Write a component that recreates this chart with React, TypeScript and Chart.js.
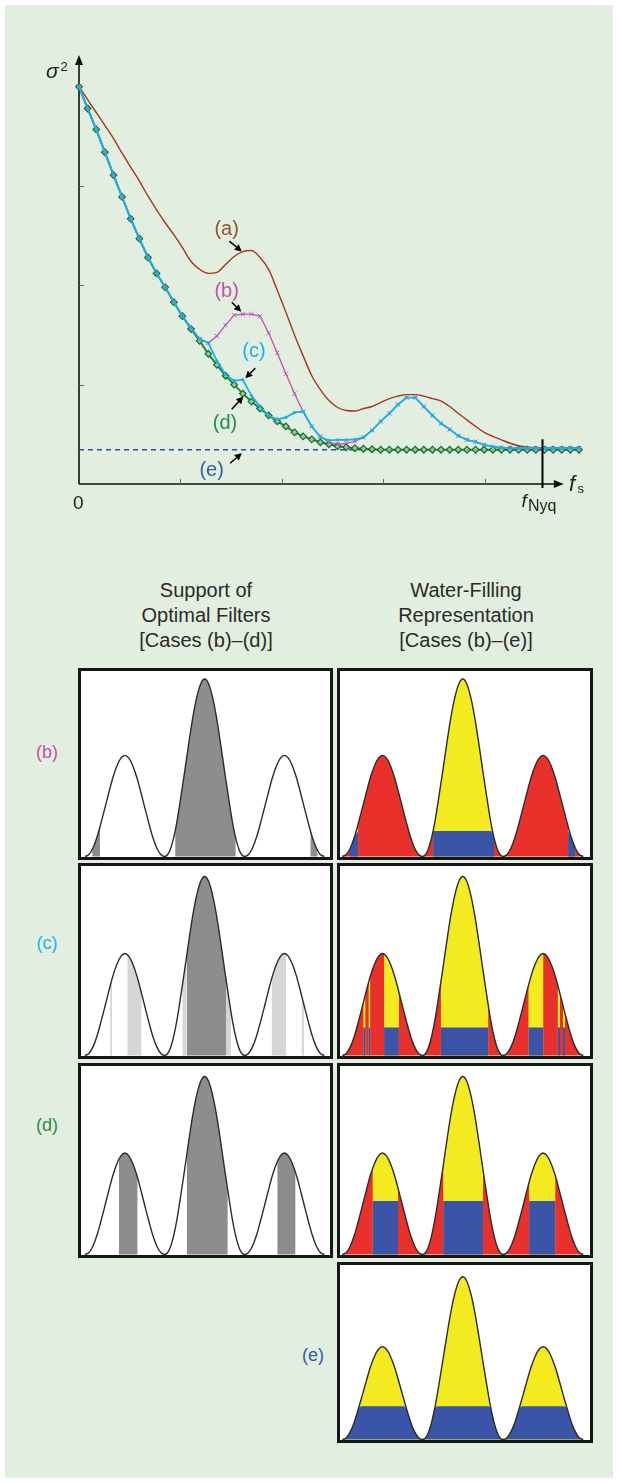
import React, { useEffect, useRef } from "react";
import { Chart, registerables } from "chart.js";

Chart.register(...registerables);

// ---------------- Top chart data (variance vs. sampling rate) ----------------
const FREQ_STEP = 0.085; // spacing of the sampled frequencies (axis units)
const curveA = [
  4.0, 3.87, 3.74, 3.61, 3.48, 3.33, 3.19, 3.05, 2.9, 2.76, 2.63, 2.51, 2.38, 2.24, 2.16, 2.12, 2.13, 2.21,
  2.29, 2.34, 2.35, 2.28, 2.16, 1.95, 1.73, 1.5, 1.29, 1.09, 0.95, 0.84, 0.77, 0.74, 0.735, 0.76, 0.78, 0.82,
  0.86, 0.885, 0.9, 0.9, 0.885, 0.86, 0.835, 0.78, 0.71, 0.645, 0.58, 0.52, 0.48, 0.445, 0.41, 0.385, 0.37,
  0.365, 0.365, 0.365, 0.365, 0.365, 0.365,
];
const curveB = [
  4.0, 3.78, 3.57, 3.34, 3.11, 2.89, 2.67, 2.47, 2.28, 2.12, 1.98, 1.83, 1.69, 1.57, 1.46, 1.42, 1.49, 1.6,
  1.7, 1.71, 1.71, 1.69, 1.52, 1.32, 1.11, 0.91, 0.73, 0.58, 0.48, 0.42, 0.4, 0.41, 0.43, 0.47, 0.54, 0.63,
  0.71, 0.8, 0.87, 0.87, 0.78, 0.69, 0.61, 0.55, 0.485, 0.445, 0.425, 0.395, 0.375, 0.365, 0.36, 0.36, 0.36,
  0.36, 0.36, 0.36, 0.36, 0.36, 0.36,
];
const curveC = [
  4.0, 3.78, 3.57, 3.34, 3.11, 2.89, 2.67, 2.47, 2.28, 2.12, 1.98, 1.83, 1.69, 1.57, 1.46, 1.42, 1.24, 1.1,
  1.04, 1.05, 0.89, 0.78, 0.69, 0.65, 0.67, 0.72, 0.73, 0.58, 0.47, 0.44, 0.445, 0.445, 0.45, 0.47, 0.54,
  0.63, 0.71, 0.8, 0.87, 0.87, 0.78, 0.69, 0.61, 0.55, 0.485, 0.445, 0.425, 0.395, 0.375, 0.365, 0.36, 0.36,
  0.36, 0.36, 0.36, 0.36, 0.36, 0.36, 0.36,
];
const curveD = [
  4.0, 3.78, 3.57, 3.34, 3.11, 2.89, 2.67, 2.47, 2.28, 2.12, 1.98, 1.83, 1.69, 1.56, 1.44, 1.31, 1.2, 1.09,
  1.0, 0.91, 0.83, 0.76, 0.69, 0.63, 0.58, 0.52, 0.48, 0.45, 0.42, 0.4, 0.38, 0.37, 0.36, 0.355, 0.35, 0.345,
  0.345, 0.345, 0.345, 0.345, 0.345, 0.345, 0.345, 0.345, 0.345, 0.345, 0.345, 0.345, 0.345, 0.345, 0.345,
  0.345, 0.345, 0.345, 0.345, 0.345, 0.345, 0.345, 0.345,
];
const levelE = 0.345;
const xTicks = [1, 2, 3, 4];
const yTicks = [1, 2, 3];
const fNyq = 4.57;
const X_MAX = 4.93;
const Y_MAX = 4.5;
const X_ARROW = 4.78;
const Y_ARROW = 4.32;

// annotation arrows: tip in data units, tail offset in px
const arrowTips = [
  { x: 1.605, y: 2.34, dx: -12.4, dy: -10.5 },
  { x: 1.6, y: 1.735, dx: -9.5, dy: -9.5 },
  { x: 1.64, y: 1.065, dx: 10, dy: -10 },
  { x: 1.62, y: 0.88, dx: -11.6, dy: 12.6 },
  { x: 1.605, y: 0.31, dx: -11.7, dy: 10 },
];

// ---------------- Panel data (normalized spectrum with three bumps) ----------------
const panelCurve = [
  0, 0.011, 0.048, 0.108, 0.188, 0.274, 0.362, 0.445, 0.51, 0.554, 0.57,
  0.554, 0.51, 0.445, 0.362, 0.274, 0.188, 0.108, 0.048, 0.011, 0,
  0.02, 0.085, 0.19, 0.33, 0.48, 0.635, 0.78, 0.895, 0.972, 1.0,
  0.972, 0.895, 0.78, 0.635, 0.48, 0.33, 0.19, 0.085, 0.02, 0,
  0.011, 0.048, 0.108, 0.188, 0.274, 0.362, 0.445, 0.51, 0.554, 0.57,
  0.554, 0.51, 0.445, 0.362, 0.274, 0.188, 0.108, 0.048, 0.011, 0,
];
const supportB = [[1.8, 3.8], [22.6, 37.8], [56.5, 58.3]];
const supportCDark = [[25.5, 35.5]];
const supportCLight = [[24.4, 25.5], [35.5, 36.6], [10.6, 14.2], [46.8, 50.4], [6.3, 6.8], [54.3, 54.9]];
const supportD = [[8.5, 13.2], [25.5, 35.8], [48.2, 52.8]];
const waterBandsB = [[1.9, 4.0], [22.6, 37.8], [56.2, 58.0]];
const waterBandsC = [[5.2, 5.8], [6.5, 7.0], [10.4, 14.1], [24.5, 36.4], [46.3, 50.1], [53.6, 54.2], [54.9, 55.5]];
const waterBandsD = [[7.5, 13.9], [25.1, 35.1], [46.5, 53.1]];
const waterBandsE = [[0, 60]];
const waterB = 0.144;
const waterC = 0.157;
const waterD = 0.3;
const waterE = 0.205;

// ---------------- Styles ----------------
const FONT = '"Liberation Sans", Arial, Helvetica, sans-serif';
const BROWN = "#a4381f";
const MAG = "#c353ad";
const CYAN = "#17b1ea";
const GREEN = "#23843d";
const EBLUE = "#2e4fa6";
const T_A = "#95532a";
const T_B = "#c152a9";
const T_C = "#1bb2ea";
const T_D = "#1f8f47";
const T_E = "#3b57a8";
const DARK = "#8d8d8d";
const LIGHT = "#d6d6d6";
const RED = "#e9302a";
const BLUEF = "#3a55a7";
const YELLOW = "#f3ea1f";
const BORDER = 3;

const topPlugin = {
  id: "topAxes",
  beforeDatasetsDraw(chart: any) {
    const { ctx, scales } = chart;
    const x = scales.x, y = scales.y;
    const x0 = x.getPixelForValue(0);
    const y0 = y.getPixelForValue(0);
    const yTip = y.getPixelForValue(Y_ARROW);
    const xTip = x.getPixelForValue(X_ARROW);
    ctx.save();
    ctx.strokeStyle = "#111";
    ctx.fillStyle = "#111";
    ctx.lineWidth = 1.6;
    ctx.beginPath();
    ctx.moveTo(x0, y0);
    ctx.lineTo(x0, yTip + 8);
    ctx.moveTo(x0, y0);
    ctx.lineTo(xTip - 8, y0);
    ctx.stroke();
    ctx.beginPath();
    ctx.moveTo(x0, yTip);
    ctx.lineTo(x0 - 4, yTip + 10);
    ctx.lineTo(x0 + 4, yTip + 10);
    ctx.closePath();
    ctx.fill();
    ctx.beginPath();
    ctx.moveTo(xTip, y0);
    ctx.lineTo(xTip - 10, y0 - 4);
    ctx.lineTo(xTip - 10, y0 + 4);
    ctx.closePath();
    ctx.fill();
    ctx.lineWidth = 1;
    ctx.strokeStyle = "#666";
    ctx.beginPath();
    xTicks.forEach((v) => {
      const px = Math.round(x.getPixelForValue(v)) + 0.5;
      ctx.moveTo(px, y0);
      ctx.lineTo(px, y0 - 5);
    });
    yTicks.forEach((v) => {
      const py = Math.round(y.getPixelForValue(v)) + 0.5;
      ctx.moveTo(x0, py);
      ctx.lineTo(x0 + 5, py);
    });
    ctx.stroke();
    ctx.restore();
  },
  afterDatasetsDraw(chart: any) {
    const { ctx, scales } = chart;
    const x = scales.x, y = scales.y;
    const y0 = y.getPixelForValue(0);
    ctx.save();
    ctx.strokeStyle = "#000";
    ctx.fillStyle = "#000";
    ctx.lineWidth = 2;
    const px = x.getPixelForValue(fNyq);
    ctx.beginPath();
    ctx.moveTo(px, y.getPixelForValue(0.45));
    ctx.lineTo(px, y0 + 4);
    ctx.stroke();
    ctx.lineWidth = 1.5;
    arrowTips.forEach((a) => {
      const tx = x.getPixelForValue(a.x);
      const ty = y.getPixelForValue(a.y);
      const sx = tx + a.dx, sy = ty + a.dy;
      const ang = Math.atan2(ty - sy, tx - sx);
      const hl = 7, hw = 3.6;
      const bx = tx - hl * Math.cos(ang), by = ty - hl * Math.sin(ang);
      ctx.beginPath();
      ctx.moveTo(sx, sy);
      ctx.lineTo(bx, by);
      ctx.stroke();
      ctx.beginPath();
      ctx.moveTo(tx, ty);
      ctx.lineTo(bx + hw * Math.sin(ang), by - hw * Math.cos(ang));
      ctx.lineTo(bx - hw * Math.sin(ang), by + hw * Math.cos(ang));
      ctx.closePath();
      ctx.fill();
    });
    ctx.restore();
  },
};

function TopChart() {
  const ref = useRef<HTMLCanvasElement>(null);
  useEffect(() => {
    const pts = (arr: number[]) => arr.map((v, i) => ({ x: i * FREQ_STEP, y: v }));
    const chart = new Chart(ref.current as HTMLCanvasElement, {
      type: "line",
      data: {
        datasets: [
          {
            label: "(c)", data: pts(curveC), borderColor: CYAN, backgroundColor: CYAN, borderWidth: 1.8,
            pointRadius: 1.6, pointStyle: "circle", pointBorderWidth: 0, pointBackgroundColor: CYAN,
            order: 0, clip: false, fill: false,
          } as any,
          {
            label: "(b)", data: pts(curveB), borderColor: MAG, borderWidth: 1.3, pointStyle: "crossRot",
            pointRadius: 3, pointBorderWidth: 1, pointBorderColor: MAG, order: 1, clip: false, fill: false,
          } as any,
          {
            label: "(d)", data: pts(curveD), borderColor: GREEN, borderWidth: 2, pointStyle: "rectRot",
            pointRadius: 3.3, pointBorderWidth: 1.2, pointBorderColor: "#1a6a30", pointBackgroundColor: "#8fcb97",
            order: 2, clip: false, fill: false,
          } as any,
          {
            label: "(a)", data: pts(curveA), borderColor: BROWN, borderWidth: 1.4, pointRadius: 0,
            cubicInterpolationMode: "monotone", order: 3, clip: false, fill: false,
          } as any,
          {
            label: "(e)", data: [{ x: 0, y: levelE }, { x: (curveD.length - 1) * FREQ_STEP, y: levelE }],
            borderColor: EBLUE, borderWidth: 1.3, borderDash: [5, 4], pointRadius: 0, order: 4, fill: false,
          } as any,
        ],
      },
      options: {
        animation: false,
        responsive: false,
        maintainAspectRatio: false,
        events: [],
        layout: { padding: { left: 79, right: 39, top: 37, bottom: 56 } },
        scales: {
          x: { type: "linear", min: 0, max: X_MAX, display: false },
          y: { type: "linear", min: 0, max: Y_MAX, display: false },
        },
        plugins: { legend: { display: false }, tooltip: { enabled: false } },
      },
      plugins: [topPlugin],
    });
    return () => chart.destroy();
  }, []);
  return (
    <canvas
      ref={ref}
      width={618}
      height={540}
      style={{ position: "absolute", left: 0, top: 0, width: 618, height: 540 }}
    />
  );
}

type Spec = {
  col: "L" | "R";
  row: "b" | "c" | "d" | "e";
  kind: "gray" | "water";
  dark?: number[][];
  light?: number[][];
  bands?: number[][];
  water?: number;
  red?: boolean;
};

const COLS = {
  L: { left: 78, w: 255, p0: 85, p60: 324.3 },
  R: { left: 337, w: 256, p0: 342.3, p60: 583.3 },
};
const ROWS = {
  b: { top: 668, h: 192, base: 856.7, peak: 679 },
  c: { top: 863, h: 196, base: 1056.7, peak: 876.5 },
  d: { top: 1063, h: 195, base: 1255.5, peak: 1076.5 },
  e: { top: 1262, h: 181, base: 1440, peak: 1276.7 },
};

function curveAt(x: number) {
  if (x <= 0) return panelCurve[0];
  if (x >= panelCurve.length - 1) return panelCurve[panelCurve.length - 1];
  const i = Math.floor(x);
  const t = x - i;
  return panelCurve[i] * (1 - t) + panelCurve[i + 1] * t;
}

function bandPts(a: number, b: number, f: (v: number) => number) {
  const lo = Math.max(0, a), hi = Math.min(panelCurve.length - 1, b);
  const out = [{ x: lo, y: f(curveAt(lo)) }];
  for (let i = Math.ceil(lo); i < hi; i++) {
    if (i > lo) out.push({ x: i, y: f(panelCurve[i]) });
  }
  out.push({ x: hi, y: f(curveAt(hi)) });
  return out;
}

const NONE = "rgba(0,0,0,0)";

function Panel({ spec }: { spec: Spec }) {
  const ref = useRef<HTMLCanvasElement>(null);
  const c = COLS[spec.col];
  const r = ROWS[spec.row];
  const iw = c.w - 2 * BORDER;
  const ih = r.h - 2 * BORDER;
  useEffect(() => {
    const innerL = c.left + BORDER;
    const innerT = r.top + BORDER;
    const innerB = innerT + ih;
    const kx = (c.p60 - c.p0) / (panelCurve.length - 1);
    const xmin = (innerL - c.p0) / kx;
    const xmax = xmin + iw / kx;
    const base = Math.min(r.base, innerB - 0.5);
    const ky = base - r.peak;
    const ymin = -(innerB - base) / ky;
    const ymax = 1 + (r.peak - innerT) / ky;
    const curvePts = panelCurve.map((v, i) => ({ x: i, y: v }));
    const fillDs = (data: any[], color: string, order: number) => ({
      data, borderColor: NONE, borderWidth: 0, pointRadius: 0, fill: "origin", backgroundColor: color, order,
      cubicInterpolationMode: "monotone",
    });
    const datasets: any[] = [
      {
        data: curvePts, borderColor: "#2c2c2c", borderWidth: 1.4, pointRadius: 0, fill: false, order: 0,
        cubicInterpolationMode: "monotone",
      },
    ];
    if (spec.kind === "gray") {
      (spec.light || []).forEach(([a, b]) => datasets.push(fillDs(bandPts(a, b, (v) => v), LIGHT, 9)));
      (spec.dark || []).forEach(([a, b]) => datasets.push(fillDs(bandPts(a, b, (v) => v), DARK, 8)));
    } else {
      const w = spec.water as number;
      if (spec.red) datasets.push(fillDs(curvePts, RED, 12));
      (spec.bands || []).forEach(([a, b]) => {
        datasets.push(fillDs(bandPts(a, b, (v) => v), YELLOW, 10));
        datasets.push(fillDs(bandPts(a, b, (v) => Math.min(v, w)), BLUEF, 8));
      });
    }
    const chart = new Chart(ref.current as HTMLCanvasElement, {
      type: "line",
      data: { datasets },
      options: {
        animation: false,
        responsive: false,
        maintainAspectRatio: false,
        events: [],
        layout: { padding: 0 },
        scales: {
          x: { type: "linear", min: xmin, max: xmax, display: false },
          y: { type: "linear", min: ymin, max: ymax, display: false },
        },
        plugins: { legend: { display: false }, tooltip: { enabled: false } },
      },
    });
    return () => chart.destroy();
  }, []);
  return (
    <div
      style={{
        position: "absolute", left: c.left, top: r.top, width: c.w, height: r.h, boxSizing: "border-box",
        border: `${BORDER}px solid #161616`, background: "#fff",
      }}
    >
      <canvas ref={ref} width={iw} height={ih} style={{ display: "block", width: iw, height: ih }} />
    </div>
  );
}

const PANELS: Spec[] = [
  { col: "L", row: "b", kind: "gray", dark: supportB },
  { col: "R", row: "b", kind: "water", bands: waterBandsB, water: waterB, red: true },
  { col: "L", row: "c", kind: "gray", dark: supportCDark, light: supportCLight },
  { col: "R", row: "c", kind: "water", bands: waterBandsC, water: waterC, red: true },
  { col: "L", row: "d", kind: "gray", dark: supportD },
  { col: "R", row: "d", kind: "water", bands: waterBandsD, water: waterD, red: true },
  { col: "R", row: "e", kind: "water", bands: waterBandsE, water: waterE, red: false },
];

// text positioned by its baseline
function Txt(props: {
  x: number; y: number; size: number; color?: string; italic?: boolean; center?: boolean; children: any;
}) {
  const { x, y, size, color = "#222", italic = false, center = false, children } = props;
  return (
    <div
      style={{
        position: "absolute", left: x, top: y - 0.8465 * size, fontSize: size, lineHeight: `${size}px`,
        fontFamily: FONT, color, fontStyle: italic ? "italic" : "normal", whiteSpace: "nowrap",
        transform: center ? "translateX(-50%)" : undefined,
      }}
    >
      {children}
    </div>
  );
}

function Title({ x, lines }: { x: number; lines: string[] }) {
  return (
    <div
      style={{
        position: "absolute", left: x - 130, width: 260, top: 577.6, textAlign: "center", fontFamily: FONT,
        fontSize: 20, lineHeight: "25px", color: "#2a2a2a",
      }}
    >
      {lines.map((l, i) => (
        <div key={i}>{l}</div>
      ))}
    </div>
  );
}

export default function App() {
  return (
    <div style={{ position: "absolute", left: 0, top: 0, width: 618, height: 1483, background: "#fff", overflow: "hidden" }}>
      <div style={{ position: "absolute", left: 5, top: 5, width: 608, height: 1473, background: "#e2efe0" }} />
      <TopChart />
      <Txt x={46} y={77.6} size={21} italic>σ</Txt>
      <Txt x={60.5} y={71} size={13}>2</Txt>
      <Txt x={78.3} y={508.8} size={19} center>0</Txt>
      <Txt x={569} y={491.7} size={22} italic>f</Txt>
      <Txt x={577.5} y={493.5} size={13}>s</Txt>
      <Txt x={521.5} y={506.7} size={19} italic>f</Txt>
      <Txt x={528} y={511.7} size={16}>Nyq</Txt>
      <Txt x={226.7} y={235} size={20} color={T_A} center>(a)</Txt>
      <Txt x={226.7} y={297} size={20} color={T_B} center>(b)</Txt>
      <Txt x={254} y={357} size={20} color={T_C} center>(c)</Txt>
      <Txt x={225} y={429} size={20} color={T_D} center>(d)</Txt>
      <Txt x={211.7} y={475.5} size={20} color={T_E} center>(e)</Txt>

      <Title x={206} lines={["Support of", "Optimal Filters", "[Cases (b)\u2013(d)]"]} />
      <Title x={466} lines={["Water-Filling", "Representation", "[Cases (b)\u2013(e)]"]} />

      {PANELS.map((p, i) => (
        <Panel key={i} spec={p} />
      ))}
      <Txt x={47} y={758} size={18} color={T_B} center>(b)</Txt>
      <Txt x={47} y={949} size={18} color={T_C} center>(c)</Txt>
      <Txt x={47} y={1131} size={18} color={T_D} center>(d)</Txt>
      <Txt x={313} y={1361} size={18} color={T_E} center>(e)</Txt>
    </div>
  );
}
